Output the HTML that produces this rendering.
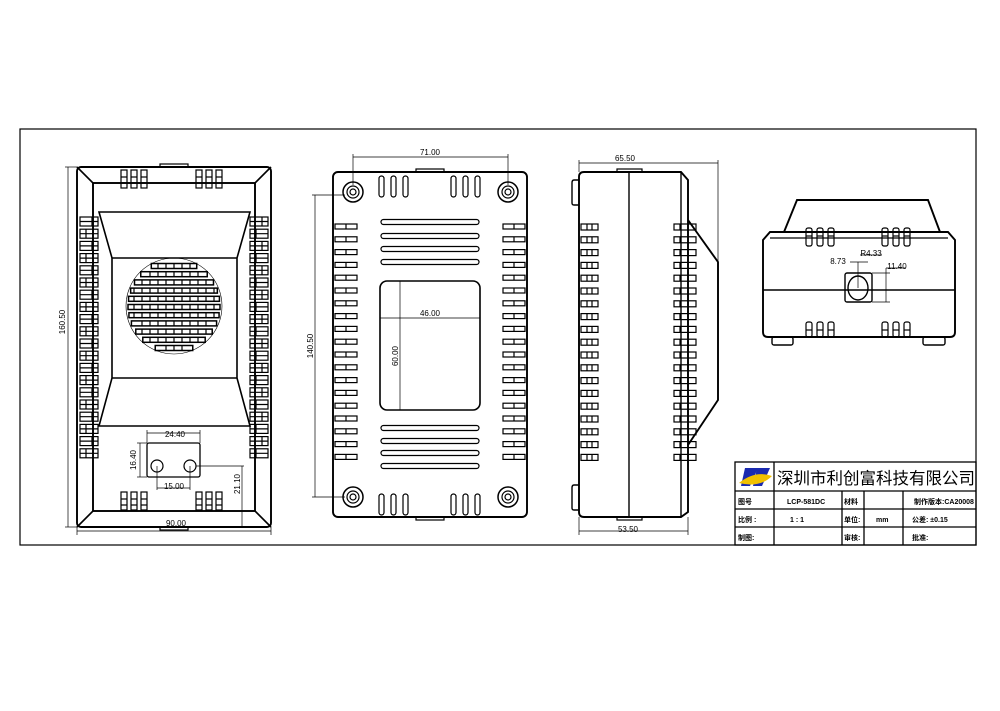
<!DOCTYPE html>
<html><head><meta charset="utf-8"><style>
html,body{margin:0;padding:0;background:#fff;}
svg{display:block;}
text{font-family:"Liberation Sans","Noto Sans CJK SC",sans-serif;fill:#000;}
</style></head><body>
<svg id="s" width="1000" height="711" viewBox="0 0 1000 711" xmlns="http://www.w3.org/2000/svg" fill="none" stroke="#000" stroke-width="1.2">
<rect x="20" y="129" width="956" height="416" stroke-width="1.2"/>
<!-- VIEW 1 -->
<g stroke-width="1.9">
<rect x="77" y="167" width="194" height="360" rx="4"/>
<rect x="93" y="183" width="162" height="328"/>
</g>
<line x1="77" y1="167" x2="93" y2="183" stroke-width="1.6"/><line x1="271" y1="167" x2="255" y2="183" stroke-width="1.6"/>
<line x1="77" y1="527" x2="93" y2="511" stroke-width="1.6"/><line x1="271" y1="527" x2="255" y2="511" stroke-width="1.6"/>
<rect x="160" y="164" width="28" height="3"/><rect x="160" y="527" width="28" height="3"/>
<path d="M99 212 L250 212 L237 258 L112 258 Z M112 258 L237 258 L237 378 L112 378 Z M112 378 L237 378 L250 426 L99 426 Z" stroke-width="1.6"/>
<circle cx="174" cy="306" r="48" stroke-width="0.6"/>
<rect x="147" y="443" width="53" height="34" rx="2" stroke-width="1.3"/>
<circle cx="157" cy="466" r="6"/><circle cx="190" cy="466" r="6"/>
<g stroke-width="0.7">
<line x1="147" y1="433" x2="200" y2="433"/><line x1="147" y1="430" x2="147" y2="443"/><line x1="200" y1="430" x2="200" y2="443"/>
<line x1="140" y1="443" x2="140" y2="477"/><line x1="137" y1="443" x2="147" y2="443"/><line x1="137" y1="477" x2="147" y2="477"/>
<line x1="157" y1="466" x2="157" y2="490"/><line x1="190" y1="466" x2="190" y2="490"/><line x1="157" y1="488" x2="190" y2="488"/>
<line x1="196" y1="466" x2="244" y2="466"/><line x1="242" y1="466" x2="242" y2="527"/>
<line x1="68" y1="167" x2="68" y2="527"/><line x1="65" y1="167" x2="77" y2="167"/><line x1="65" y1="527" x2="77" y2="527"/>
<line x1="77" y1="531" x2="271" y2="531"/><line x1="77" y1="527" x2="77" y2="535"/><line x1="271" y1="527" x2="271" y2="535"/>
</g>
<g stroke="none" font-size="8">
<text x="175" y="437" text-anchor="middle">24.40</text>
<text x="174" y="489" text-anchor="middle">15.00</text>
<text x="176" y="526" text-anchor="middle">90.00</text>
<text transform="translate(136 460) rotate(-90)" text-anchor="middle">16.40</text>
<text transform="translate(240 484) rotate(-90)" text-anchor="middle">21.10</text>
<text transform="translate(65 322) rotate(-90)" text-anchor="middle">160.50</text>
</g>
<!-- VIEW 2 -->
<rect x="333" y="172" width="194" height="345" rx="5" stroke-width="1.9"/>
<rect x="416" y="169" width="28" height="3"/><rect x="416" y="517" width="28" height="3"/>
<rect x="380" y="281" width="100" height="129" rx="7" stroke-width="1.6"/>
<g stroke-width="0.7">
<line x1="353" y1="157" x2="508" y2="157"/><line x1="353" y1="154" x2="353" y2="185"/><line x1="508" y1="154" x2="508" y2="185"/>
<line x1="315" y1="195" x2="315" y2="497"/><line x1="312" y1="195" x2="345" y2="195"/><line x1="312" y1="497" x2="345" y2="497"/>
<line x1="380" y1="318" x2="480" y2="318"/><line x1="400" y1="281" x2="400" y2="410"/>
</g>
<g stroke="none" font-size="8">
<text x="430" y="155" text-anchor="middle">71.00</text>
<text x="430" y="316" text-anchor="middle">46.00</text>
<text transform="translate(398 356) rotate(-90)" text-anchor="middle">60.00</text>
<text transform="translate(313 346) rotate(-90)" text-anchor="middle">140.50</text>
</g>
<!-- VIEW 3 -->
<path d="M584 172 L681 172 L688 180 L688 512 L681 517 L584 517 Q579 517 579 512 L579 177 Q579 172 584 172 Z" stroke-width="1.9"/>
<line x1="629" y1="172" x2="629" y2="517" stroke-width="1.4"/>
<line x1="681" y1="172" x2="681" y2="517" stroke-width="1.4"/>
<path d="M688 220 L718 262 L718 400 L688 445" stroke-width="1.9"/>
<rect x="617" y="169" width="25" height="3"/><rect x="617" y="517" width="25" height="3"/>
<path d="M579 180 L574 180 Q572 180 572 183 L572 203 Q572 205 574 205 L579 205 M579 485 L574 485 Q572 485 572 488 L572 508 Q572 510 574 510 L579 510" stroke-width="1.4"/>
<g stroke-width="0.7">
<line x1="579" y1="163" x2="718" y2="163"/><line x1="579" y1="160" x2="579" y2="172"/><line x1="718" y1="160" x2="718" y2="262"/>
<line x1="579" y1="531" x2="688" y2="531"/><line x1="579" y1="517" x2="579" y2="535"/><line x1="688" y1="517" x2="688" y2="535"/>
</g>
<g stroke="none" font-size="8">
<text x="625" y="161" text-anchor="middle">65.50</text>
<text x="628" y="532" text-anchor="middle">53.50</text>
</g>
<!-- VIEW 4 -->
<path d="M784 232 L797 200 L928 200 L940 232" stroke-width="1.9"/>
<path d="M770 232 L948 232 L955 240 L955 332 Q955 337 950 337 L768 337 Q763 337 763 332 L763 240 Z" stroke-width="1.9"/>
<line x1="770" y1="238" x2="948" y2="238"/>
<line x1="763" y1="290" x2="955" y2="290" stroke-width="1.4"/>
<rect x="772" y="337" width="21" height="8" rx="2" stroke-width="1.4"/><rect x="923" y="337" width="22" height="8" rx="2" stroke-width="1.4"/>
<rect x="845" y="273" width="27" height="29" rx="2" stroke-width="1.4"/>
<ellipse cx="858" cy="288" rx="10" ry="12" stroke-width="1.4"/>
<g stroke-width="0.7">
<line x1="850" y1="262" x2="868" y2="262"/><line x1="858" y1="262" x2="858" y2="288"/>
<line x1="872" y1="273" x2="890" y2="273"/><line x1="872" y1="302" x2="890" y2="302"/><line x1="886" y1="268" x2="886" y2="302"/><line x1="886" y1="268" x2="906" y2="268"/>
<line x1="860" y1="255" x2="882" y2="255"/>
</g>
<g stroke="none" font-size="8">
<text x="838" y="264" text-anchor="middle">8.73</text>
<text x="871" y="256" text-anchor="middle">R4.33</text>
<text x="897" y="269" text-anchor="middle">11.40</text>
</g>
<!-- TITLE BLOCK -->
<g stroke-width="1.3">
<rect x="735" y="462" width="241" height="83"/>
<line x1="735" y1="491" x2="976" y2="491"/><line x1="735" y1="509" x2="976" y2="509"/><line x1="735" y1="527" x2="976" y2="527"/>
<line x1="774" y1="462" x2="774" y2="545"/><line x1="842" y1="491" x2="842" y2="545"/><line x1="864" y1="491" x2="864" y2="545"/><line x1="903" y1="491" x2="903" y2="545"/>
</g>
<g stroke="none">
<path d="M745 468 L758 468 L750 486 L741 486 Z" fill="#1a2ab0"/>
<path d="M757 468 L770 468 L762 486 L753 486 Z" fill="#1a2ab0"/>
<path d="M739 483 Q755 470 772 476 Q760 488 739 483 Z" fill="#f0c000"/>
<text x="777" y="484" font-size="16.5" textLength="198" lengthAdjust="spacingAndGlyphs">深圳市利创富科技有限公司</text>
<g font-size="7" font-weight="bold">
<text x="738" y="504">图号</text><text x="787" y="504">LCP-581DC</text><text x="844" y="504">材料</text><text x="914" y="504">制作版本:CA20008</text>
<text x="738" y="522">比例 :</text><text x="790" y="522">1 : 1</text><text x="844" y="522">单位:</text><text x="876" y="522">mm</text><text x="912" y="522">公差: ±0.15</text>
<text x="738" y="540">制图:</text><text x="844" y="540">审核:</text><text x="912" y="540">批准:</text>
</g>
</g>
<g id="gen" stroke-width="1.2"></g>
</svg>
<script>
var g=document.getElementById('gen'),h='';
function R(x,y,w,hh,rx){h+='<rect x="'+x+'" y="'+y+'" width="'+w+'" height="'+hh+'"'+(rx?' rx="'+rx+'"':'')+'/>';}
function L(a,b,c,d){h+='<line x1="'+a+'" y1="'+b+'" x2="'+c+'" y2="'+d+'"/>';}
[121,131,141,196,206,216].forEach(function(x){R(x,170,6,18);L(x,177,x+6,177);L(x,183,x+6,183);R(x,492,6,18);L(x,499,x+6,499);L(x,505,x+6,505);});
for(var i=0;i<20;i++){var y=217+i*12.2;[80,250].forEach(function(x){R(x,y,18,9);L(x+((i%2)?6:12),y,x+((i%2)?6:12),y+9);L(x,y+4.5,x+18,y+4.5);});}
for(var i=0;i<11;i++){var y=266+i*8.2,dy=y-306,hw=Math.sqrt(Math.max(0,46*46-dy*dy));if(hw>10){h+='<rect x="'+(174-hw)+'" y="'+(y-2.5)+'" width="'+(hw*2)+'" height="5" stroke-width="1.5"/>';for(var k=-5;k<=5;k++){var xx=174+k*8;if(Math.abs(k*8)<hw-3)L(xx,y-2.5,xx,y+2.5);}}}
[[353,192],[508,192],[353,497],[508,497]].forEach(function(p){h+='<circle cx="'+p[0]+'" cy="'+p[1]+'" r="10" stroke-width="1.5"/><circle cx="'+p[0]+'" cy="'+p[1]+'" r="6"/><circle cx="'+p[0]+'" cy="'+p[1]+'" r="3"/>';});
[379,391,403,451,463,475].forEach(function(x){R(x,176,5,21,2.5);R(x,494,5,21,2.5);});
[222,236,249,262,428,441,453,466].forEach(function(y){R(381,y-2.5,98,5,2.5);});
for(var i=0;i<19;i++){var y=224+i*12.8;R(335,y,22,5);L(346,y,346,y+5);R(503,y,22,5);L(514,y,514,y+5);}
for(var i=0;i<19;i++){var y=224+i*12.8;R(581,y,17,6);L(587,y,587,y+6);L(592,y,592,y+6);R(674,y,22,6);L(680,y,680,y+6);L(688,y,688,y+6);}
[806,817,828,882,893,904].forEach(function(x){R(x,228,6,18,2);L(x,236,x+6,236);R(x,322,6,15,2);L(x,330,x+6,330);});
g.innerHTML=h;
</script>
</body></html>
